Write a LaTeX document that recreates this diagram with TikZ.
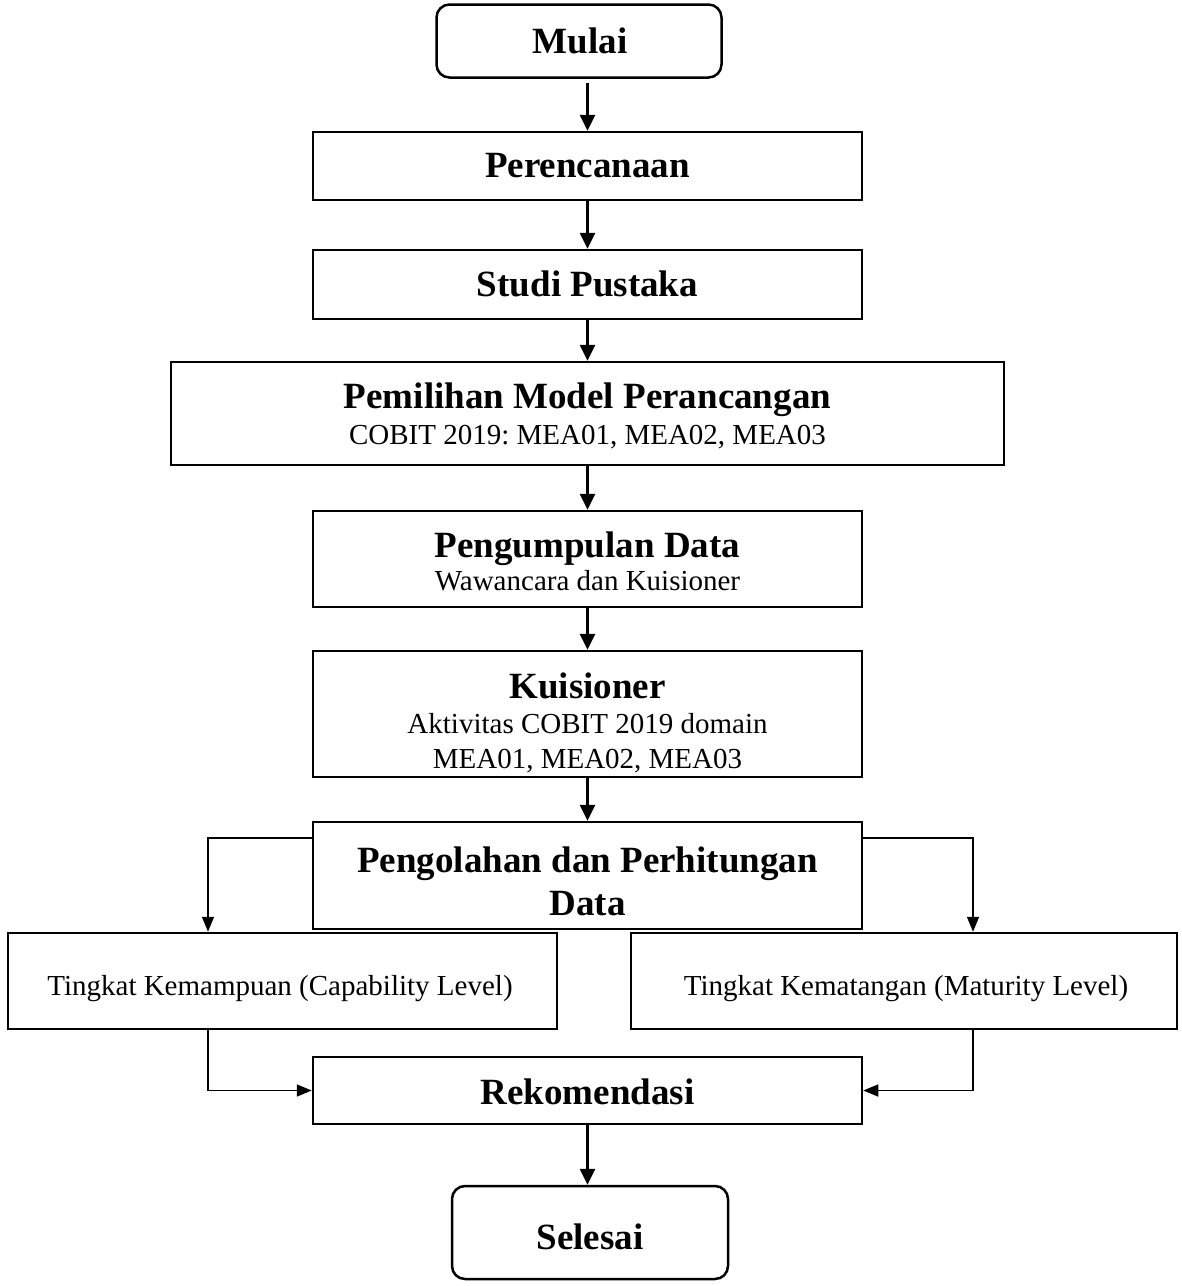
\documentclass[tikz,border=0pt]{standalone}
\usepackage{fontspec}
\setmainfont{Liberation Serif}
\usetikzlibrary{arrows.meta}
\frenchspacing
\begin{document}
\begin{tikzpicture}[x=1pt,y=-1pt,
  box/.style={draw, line width=2.5pt, rectangle, inner sep=0pt},
  rbox/.style={box, rounded corners=13pt},
  tb/.style={font=\fontsize{37}{44}\selectfont\bfseries, inner sep=0pt, anchor=base},
  tr/.style={font=\fontsize{29}{35}\selectfont, inner sep=0pt, anchor=base},
  arr/.style={line width=3pt, -{Triangle[length=16pt,width=15pt]}},
  side/.style={line width=1.6pt, -{Triangle[length=15pt,width=12pt]}}]
\useasboundingbox (0,0) rectangle (1182,1286);

% boxes
\node[rbox, minimum width=285pt, minimum height=73pt] (mul) at (579,41) {};
\node[box, minimum width=549pt, minimum height=68pt] (per) at (587.5,166) {};
\node[box, minimum width=549pt, minimum height=69pt] (stu) at (587.5,284.5) {};
\node[box, minimum width=833pt, minimum height=103pt] (pem) at (587.5,413.5) {};
\node[box, minimum width=549pt, minimum height=96pt] (pen) at (587.5,559) {};
\node[box, minimum width=549pt, minimum height=126pt] (kui) at (587.5,714) {};
\node[box, minimum width=549pt, minimum height=107pt] (pro) at (587.5,875.5) {};
\node[box, minimum width=549pt, minimum height=96pt] (kem) at (282.5,981) {};
\node[box, minimum width=546pt, minimum height=96pt] (mat) at (904,981) {};
\node[box, minimum width=549pt, minimum height=67pt] (rek) at (587.5,1090.5) {};
\node[rbox, minimum width=276pt, minimum height=93pt] (sel) at (590,1232.5) {};

% texts
\node[tb] (mulT) at (580,53) {Mulai};
\node[tb] (perT) at (587.5,177) {Perencanaan};
\node[tb] (stuT) at (587.5,296) {Studi Pustaka};
\node[tb] (pemT) at (587.5,408) {Pemilihan Model Perancangan};
\node[tr] (pemS) at (587.5,444) {COBIT 2019: MEA01, MEA02, MEA03};
\node[tb] (penT) at (587.5,557) {Pengumpulan Data};
\node[tr] (penS) at (587.5,590) {Wawancara dan Kuisioner};
\node[tb] (kuiT) at (587.5,698) {Kuisioner};
\node[tr] (kuiS) at (587.5,733) {Aktivitas COBIT 2019 domain};
\node[tr] (kuiS2) at (587.5,768) {MEA01, MEA02, MEA03};
\node[tb] (proT) at (587.5,872) {Pengolahan dan Perhitungan};
\node[tb] (proT2) at (587.5,915) {Data};
\node[tr] (kemT) at (280,995) {Tingkat Kemampuan (Capability Level)};
\node[tr] (matT) at (906,995) {Tingkat Kematangan (Maturity Level)};
\node[tb] (rekT) at (587.5,1104) {Rekomendasi};
\node[tb] (selT) at (590,1249) {Selesai};

% main arrows
\draw[arr] ([yshift=-4pt]mul.south -| per.north) -- (per.north);
\draw[arr] (per.south) -- (stu.north);
\draw[arr] (stu.south) -- (pem.north);
\draw[arr] (pem.south) -- (pen.north);
\draw[arr] (pen.south) -- (kui.north);
\draw[arr] (kui.south) -- (pro.north);
\draw[arr] (rek.south) -- (rek.south |- sel.north);

% side connectors
\coordinate (kemIn) at ([xshift=-74.5pt]kem.north);
\coordinate (kemOut) at ([xshift=-74.5pt]kem.south);
\coordinate (matIn) at ([xshift=69pt]mat.north);
\coordinate (matOut) at ([xshift=69pt]mat.south);
\draw[side] ([yshift=-17pt]pro.north west) -| (kemIn);
\draw[side] ([yshift=-17pt]pro.north east) -| (matIn);
\draw[side] (kemOut) |- (rek.west);
\draw[side] (matOut) |- (rek.east);
\end{tikzpicture}
\end{document}
